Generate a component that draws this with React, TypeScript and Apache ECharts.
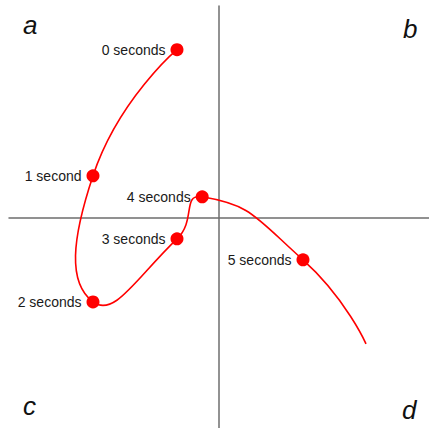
import React, { useEffect, useRef } from "react";
import * as echarts from "echarts";

const xs = [-1, -3, -3, -1, -0.4, 2, 3.5];
const ys = [4, 1, -2, -0.5, 0.5, -1, -3];
const pointLabels = ["0 seconds", "1 second", "2 seconds", "3 seconds", "4 seconds", "5 seconds", ""];
const cornerLetters = ["a", "b", "c", "d"];
const TENSION = 0.555;

export default function App() {
  const ref = useRef<HTMLDivElement>(null);
  useEffect(() => {
    if (!ref.current) return;
    const chart = echarts.init(ref.current, null, { renderer: "svg" });
    const pts = xs.map((x, i) => [x, ys[i]]);
    const markers = pts
      .map((p, i) => ({ value: p, name: pointLabels[i] }))
      .filter((d) => d.name);
    const letterPos = [
      { x: 23, y: 25 },
      { x: 403, y: 29 },
      { x: 23, y: 406 },
      { x: 402, y: 410 },
    ];

    const renderItem = (params: any, api: any) => {
      const i = params.dataIndex;
      const n = pts.length;
      if (i >= n - 1) return null;
      const P = pts.map((p) => api.coord(p));
      const cpOut = (k: number) => {
        if (k === 0) return P[0];
        const prev = P[k - 1], cur = P[k], next = P[k + 1];
        const vx = next[0] - prev[0], vy = next[1] - prev[1];
        const lp = Math.hypot(cur[0] - prev[0], cur[1] - prev[1]);
        const ln = Math.hypot(next[0] - cur[0], next[1] - cur[1]);
        const r = ln / (lp + ln);
        return [cur[0] + vx * TENSION * r, cur[1] + vy * TENSION * r];
      };
      const cpIn = (k: number) => {
        if (k === n - 1) return P[n - 1];
        const prev = P[k - 1], cur = P[k], next = P[k + 1];
        const vx = next[0] - prev[0], vy = next[1] - prev[1];
        const lp = Math.hypot(cur[0] - prev[0], cur[1] - prev[1]);
        const ln = Math.hypot(next[0] - cur[0], next[1] - cur[1]);
        const r = lp / (lp + ln);
        return [cur[0] - vx * TENSION * r, cur[1] - vy * TENSION * r];
      };
      const a = cpOut(i);
      const b = cpIn(i + 1);
      return {
        type: "bezierCurve",
        shape: {
          x1: P[i][0],
          y1: P[i][1],
          cpx1: a[0],
          cpy1: a[1],
          cpx2: b[0],
          cpy2: b[1],
          x2: P[i + 1][0],
          y2: P[i + 1][1],
        },
        style: { stroke: "#ff0000", lineWidth: 1.6, fill: "none" },
      };
    };

    chart.setOption({
      animation: false,
      grid: { left: 9, right: 0, top: 6, bottom: 0, containLabel: false },
      xAxis: {
        type: "value",
        min: -5,
        max: 5,
        axisLine: { show: true, onZero: true, lineStyle: { color: "#6e6e6e", width: 1.5 } },
        axisTick: { show: false },
        axisLabel: { show: false },
        splitLine: { show: false },
      },
      yAxis: {
        type: "value",
        min: -5,
        max: 5.04,
        axisLine: { show: true, onZero: true, lineStyle: { color: "#6e6e6e", width: 1.5 } },
        axisTick: { show: false },
        axisLabel: { show: false },
        splitLine: { show: false },
      },
      series: [
        {
          type: "custom",
          data: pts,
          renderItem,
          clip: false,
          silent: true,
          z: 4,
        },
        {
          type: "scatter",
          data: markers,
          symbol: "circle",
          symbolSize: 13,
          itemStyle: { color: "#ff0000", opacity: 1 },
          label: {
            show: true,
            position: "left",
            distance: 5,
            formatter: (p: any) => p.name,
            fontFamily: "Liberation Sans",
            fontSize: 14,
            color: "#1a1a1a",
          },
          z: 5,
        },
      ],
      graphic: cornerLetters.map((t, i) => ({
        type: "text",
        x: letterPos[i].x,
        y: letterPos[i].y,
        style: {
          text: t,
          font: 'italic 26px "Liberation Sans"',
          fill: "#111",
          textAlign: "left",
          textVerticalAlign: "middle",
        },
      })),
    });
    return () => chart.dispose();
  }, []);
  return (
    <div
      ref={ref}
      style={{ position: "fixed", left: 0, top: 0, width: 429, height: 428, background: "#fff" }}
    />
  );
}
